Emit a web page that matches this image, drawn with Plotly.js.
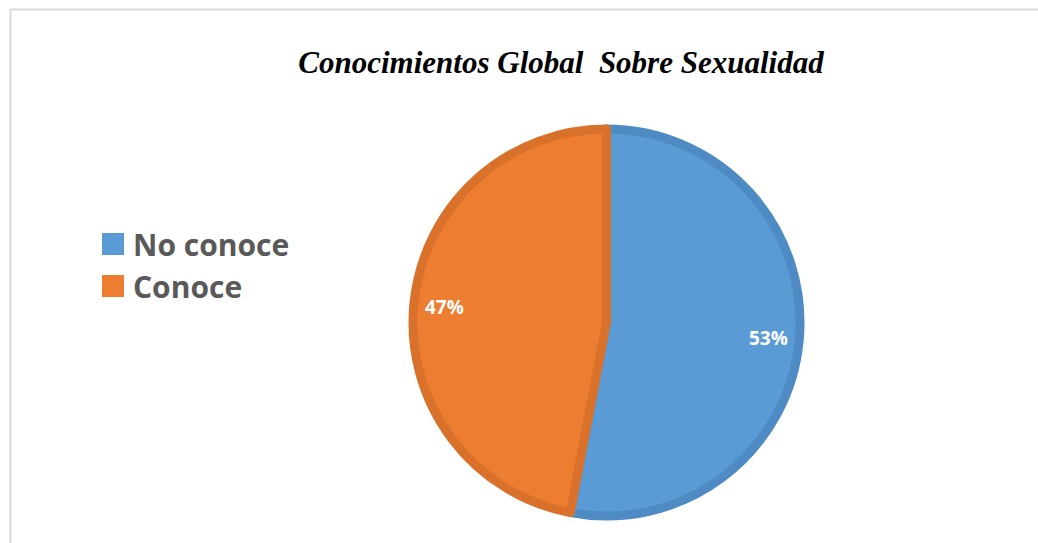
<!DOCTYPE html>
<html>
<head>
<meta charset="utf-8">
<script src="https://cdn.plot.ly/plotly-3.0.1.min.js"></script>
<style>html,body{margin:0;padding:0;background:#fff;}#chart{width:1038px;height:543px;}</style>
</head>
<body>
<div id="chart"></div>
<script>
// Data
const categories = ["No conoce", "Conoce"];
const values = [53, 47];
const titleText = "Conocimientos Global\u00a0 Sobre Sexualidad";

// Styles
const fillColors = ["#5B9BD5", "#ED7D31"];
const edgeColors = ["#4E8AC4", "#D9712B"];

const dom = { x: [413/1038, 800/1038], y: [(543-516)/543, (543-129)/543] };

const trace = {
  type: "pie",
  labels: categories,
  values: values,
  sort: false,
  direction: "clockwise",
  rotation: 0,
  marker: { colors: fillColors, line: { color: edgeColors, width: 9 } },
  textinfo: "none",
  hoverinfo: "none",
  domain: dom,
  showlegend: true
};

// Percentage labels placed along each slice's bisector (derived from the values)
const total = values.reduce(function (a, b) { return a + b; }, 0);
const cxPaper = (dom.x[0] + dom.x[1]) / 2, cyPaper = (dom.y[0] + dom.y[1]) / 2;
const rPx = (dom.x[1] - dom.x[0]) * 1038 / 2;
const labelFrac = 0.84;
const annotations = [];
let cum = 0;
values.forEach(function (v, i) {
  const mid = (cum + v / 2) / total * 2 * Math.PI; // clockwise from 12 o'clock
  cum += v;
  const dx = Math.sin(mid) * rPx * labelFrac;
  const dy = Math.cos(mid) * rPx * labelFrac;
  annotations.push({
    xref: "paper", yref: "paper",
    x: cxPaper + dx / 1038, y: cyPaper + dy / 543,
    xanchor: "center", yanchor: "middle", showarrow: false,
    text: "<b>" + Math.round(v / total * 100) + "%</b>",
    font: { family: "'Open Sans', Lato, sans-serif", size: 19, color: "#FFFFFF" }
  });
});

const layout = {
  width: 1038,
  height: 543,
  margin: { l: 0, r: 0, t: 0, b: 0 },
  paper_bgcolor: "#FFFFFF",
  title: {
    text: "<b><i>" + titleText + "</i></b>",
    font: { family: "'Liberation Serif', 'Times New Roman', serif", size: 31, color: "#000000" },
    x: 561/1038, xanchor: "center",
    y: 1 - 62/543, yanchor: "middle"
  },
  legend: {
    x: 93/1038, xanchor: "left",
    y: 1 - 218/543, yanchor: "top",
    font: { family: "'Open Sans', Lato, sans-serif", size: 30, color: "#595959", weight: "bold" },
    tracegroupgap: 0,
    itemwidth: 30,
    bgcolor: "rgba(0,0,0,0)"
  },
  annotations: annotations,
  shapes: [
    { type: "line", xref: "paper", yref: "paper", x0: 10.5/1038, x1: 1, y0: 1 - 9.5/543, y1: 1 - 9.5/543, line: { color: "#D9D9D9", width: 2 } },
    { type: "line", xref: "paper", yref: "paper", x0: 10.5/1038, x1: 10.5/1038, y0: 0, y1: 1 - 9.5/543, line: { color: "#D9D9D9", width: 2 } }
  ]
};

Plotly.newPlot("chart", [trace], layout, { displayModeBar: false, staticPlot: true }).then(function () {
  // enlarge legend squares to match reference
  document.querySelectorAll(".legendpoints path").forEach(function (p) {
    p.setAttribute("d", "M11,11V-11H-11V11Z");
    p.style.strokeWidth = "0px";
  });
});
</script>
</body>
</html>
